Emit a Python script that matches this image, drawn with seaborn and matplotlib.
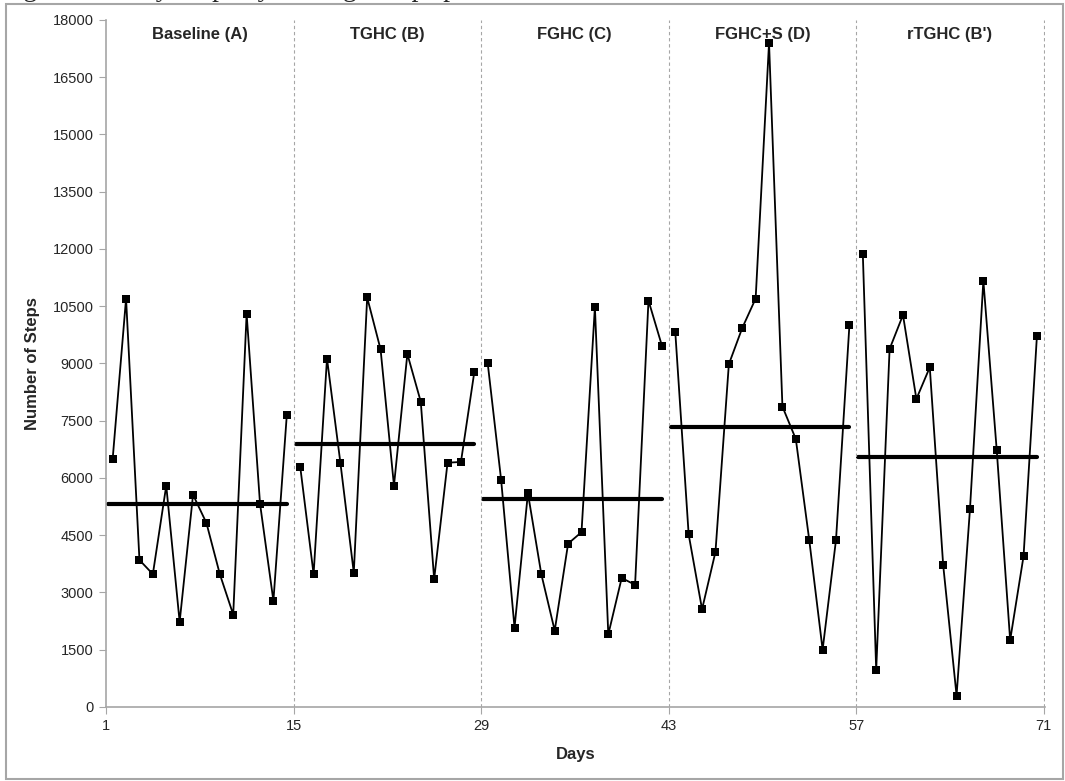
import matplotlib
matplotlib.use("Agg")
import matplotlib.pyplot as plt
from matplotlib.patches import Rectangle
import seaborn as sns
import numpy as np
import pandas as pd

sns.set_style("white")
plt.rcParams['font.family'] = ['Liberation Sans', 'DejaVu Sans']

# Daily step counts, 14 days per phase
phases = ["Baseline (A)", "TGHC (B)", "FGHC (C)", "FGHC+S (D)", "rTGHC (B')"]
steps_a = [6500, 10700, 3850, 3480, 5800, 2230, 5560, 4820, 3480, 2420, 10300, 5330, 2780, 7650]
steps_b = [6300, 3480, 9130, 6400, 3520, 10730, 9370, 5800, 9250, 8000, 3350, 6400, 6420, 8780]
steps_c = [9000, 5950, 2080, 5600, 3480, 2000, 4280, 4580, 10480, 1900, 3380, 3200, 10650, 9470]
steps_d = [9830, 4520, 2560, 4060, 8980, 9930, 10700, 17400, 7870, 7020, 4380, 1500, 4380, 10000]
steps_e = [11880, 970, 9380, 10270, 8070, 8900, 3720, 300, 5180, 11170, 6720, 1750, 3950, 9730]
phase_means = [5330, 6900, 5450, 7330, 6550]
phase_bounds = [1, 15, 29, 43, 57, 71]

all_steps = [steps_a, steps_b, steps_c, steps_d, steps_e]
rows = []
for p, vals in enumerate(all_steps):
    for i, v in enumerate(vals):
        rows.append({"phase": phases[p], "day": phase_bounds[p] + i + 0.5, "steps": v})
df = pd.DataFrame(rows)

fig = plt.figure(figsize=(10.65, 7.81), dpi=100)
ax = fig.add_axes([0.0995, 0.0948, 0.8817, 0.8796])

for p, name in enumerate(phases):
    sub = df[df.phase == name]
    sns.lineplot(data=sub, x="day", y="steps", ax=ax, color="black", lw=1.3,
                 marker="s", markersize=5.5, markeredgewidth=0, legend=False)
    # phase mean
    ax.plot([phase_bounds[p] + 0.15, sub.day.max()], [phase_means[p]] * 2,
            color="black", lw=3)
    ax.text((phase_bounds[p] + phase_bounds[p + 1]) / 2, 17620, name,
            ha="center", va="center", fontsize=12, fontweight="bold")

for b in phase_bounds[1:]:
    ax.axvline(b, color="#a6a6a6", lw=0.8, ls=(0, (3, 2.5)))

ax.set_xlim(1, 71.1)
ax.set_ylim(0, 18000)
ax.set_xticks(phase_bounds)
ax.set_yticks(np.arange(0, 18001, 1500))
ax.tick_params(axis="both", labelsize=10.5, length=5, color="#a6a6a6",
               direction="out", left=True, bottom=True, pad=4)
for s in ["top", "right"]:
    ax.spines[s].set_visible(False)
for s in ["left", "bottom"]:
    ax.spines[s].set_color("#a6a6a6")
    ax.spines[s].set_linewidth(1.2)
ax.set_xlabel("Days", fontsize=12, fontweight="bold", labelpad=10)
ax.set_ylabel("Number of Steps", fontsize=12, fontweight="bold", labelpad=9)

# outer frame and clipped caption above
fig.patches.append(Rectangle((0.006, 0.002), 0.992, 0.993, transform=fig.transFigure,
                             fill=False, edgecolor="#a6a6a6", lw=1.5))
fig.text(0.0, 1.005, "Figure 1. Daily Steps by Average Steps per Phase",
         family=["Liberation Serif", "DejaVu Serif"], fontsize=20, va="baseline")

fig.savefig("out.png", dpi=100)
